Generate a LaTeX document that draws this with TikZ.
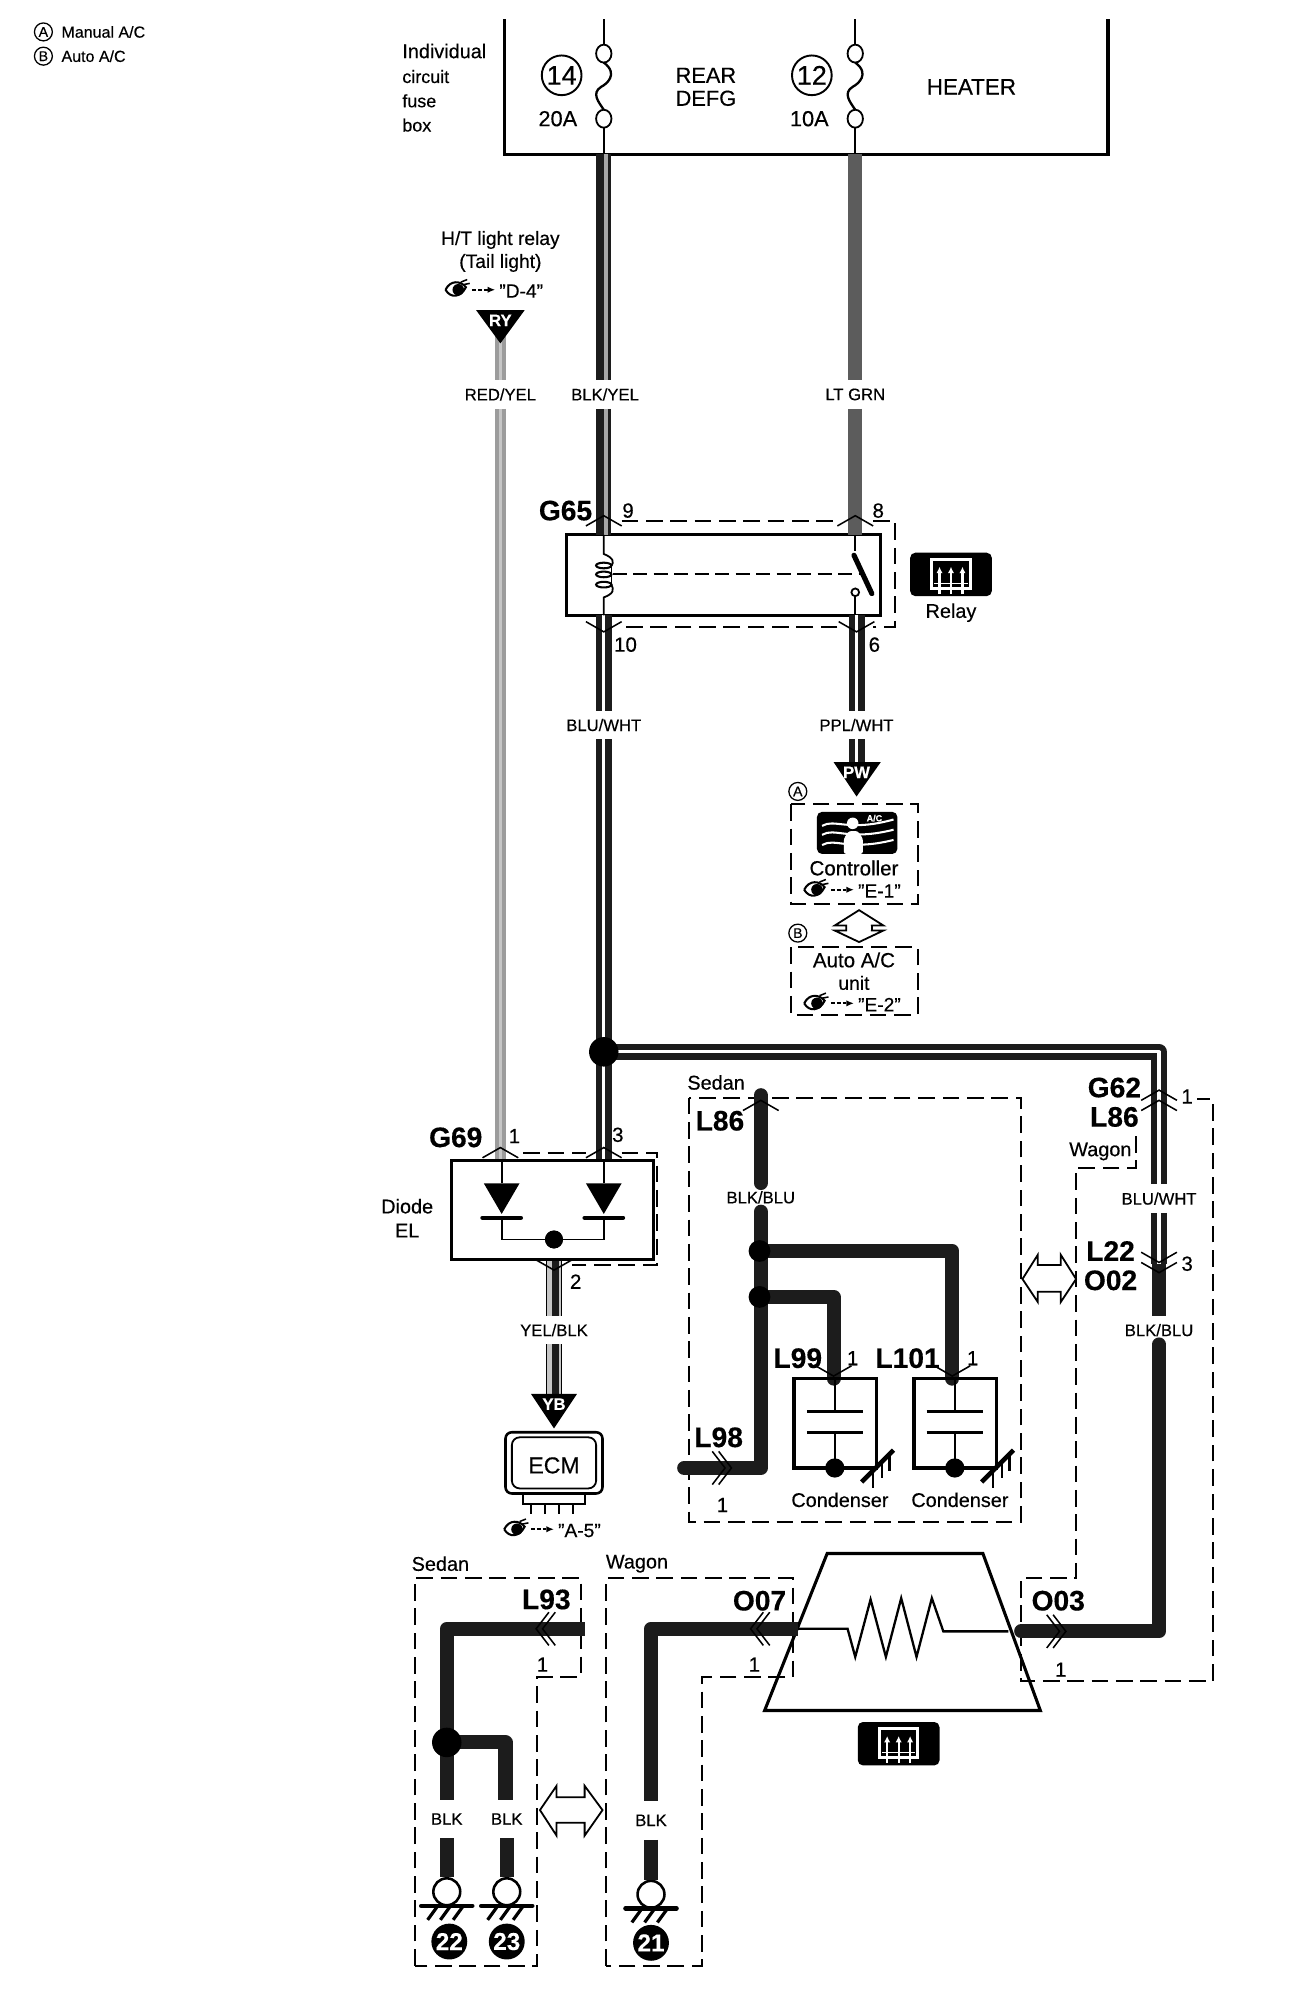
\documentclass[tikz,border=0pt]{standalone}
\usepackage{fontspec}
\setmainfont{Liberation Sans}[FakeBold=0.35]
\usetikzlibrary{arrows.meta,calc}
\definecolor{wblk}{HTML}{1C1C1C}
\definecolor{wltg}{HTML}{5C5C5C}
\definecolor{wred}{HTML}{9C9C9C}
\tikzset{
  x=0.9963pt,y=-0.9963pt,
  thin line/.style={line width=1.4pt,black},
  box line/.style={line width=2.4pt,black},
  dash line/.style={line width=1.5pt,black,dash pattern=on 13pt off 6pt},
  chev/.style={line width=1.2pt,black},
  wire black/.style={line width=11pt,wblk,line cap=round,line join=round},
  wire ltgrn/.style={line width=11pt,wltg},
  wire redyel/.style={line width=9pt,wred},
  wire rails/.style={line width=5pt,double=white,double distance=2.5pt,wblk,line join=round},
  wire stripe/.style={line width=3pt,gray!70},
  wlabel/.style={font=\fontsize{13}{13}\selectfont,minimum height=22pt,inner sep=0pt},
  blabel/.style={font=\fontsize{22}{22}\selectfont\bfseries,inner sep=0pt},
  pinlabel/.style={font=\fontsize{16}{16}\selectfont,inner sep=0pt},
  tlabel/.style={font=\fontsize{15.5}{15.5}\selectfont,inner sep=0pt},
  dot/.style={circle,fill=black,inner sep=0pt,minimum size=#1},
  ringnum/.style={circle,draw=black,line width=1.5pt,inner sep=0pt,minimum size=#1,font=\fontsize{21}{21}\selectfont},
  blacknum/.style={circle,fill=black,text=white,inner sep=0pt,minimum size=28pt,font=\fontsize{19}{19}\selectfont\bfseries},
  letter/.style={circle,draw=black,line width=1pt,inner sep=0pt,minimum size=14pt,font=\fontsize{11}{11}\selectfont},
  tri/.style={fill=black},
  tritext/.style={text=white,inner sep=0pt,font=\fontsize{13}{13}\selectfont\bfseries},
}
% chevrons
\newcommand{\chevup}[2]{\draw[chev] (#1-14,#2+4) -- (#1,#2-4) -- (#1+14,#2+4);}
\newcommand{\chevdn}[2]{\draw[chev] (#1-14,#2-4) -- (#1,#2+4) -- (#1+14,#2-4);}
\newcommand{\chevrr}[2]{\draw[chev] (#1-5,#2-13) -- (#1+5,#2) -- (#1-5,#2+13) (#1,#2-13) -- (#1+10,#2) -- (#1,#2+13);}
\newcommand{\chevll}[2]{\draw[chev] (#1+5,#2-13) -- (#1-5,#2) -- (#1+5,#2+13) (#1,#2-13) -- (#1-10,#2) -- (#1,#2+13);}
% eye reference
\newcommand{\eyemark}[3]{%
  \draw[line width=1.6pt] (#1-9,#2) .. controls (#1-5,#2-8) and (#1+3,#2-7) .. (#1+7,#2-2) .. controls (#1+3,#2+6) and (#1-5,#2+7) .. (#1-9,#2);
  \fill (#1+1,#2) circle (4.5pt);
  \draw[line width=1.2pt] (#1+3,#2-6) -- (#1+8,#2-8) (#1+5,#2-4) -- (#1+10,#2-5);
  \draw[line width=1.5pt,dash pattern=on 3pt off 1.5pt,-{Latex[length=6pt,width=5pt]}] (#1+12,#2) -- (#1+30,#2);
  \node[tlabel,font=\fontsize{15}{15}\selectfont,anchor=west] (#3) at (#1+33,#2+1) {#3};}
% defrost icon
\newcommand{\defrosticon}[2]{%
  \fill[black,rounded corners=4pt] (#1-32,#2-17) rectangle (#1+32,#2+17);
  \draw[white,line width=2.5pt] (#1-15,#2-12) rectangle (#1+15,#2+11);
  \foreach \dx in {-9,0,9}{\draw[white,line width=1.6pt,-{Latex[length=5pt,width=5pt]}] (#1+\dx,#2+15) -- (#1+\dx,#2-6);}
  \draw[white,line width=1.2pt] (#1-13,#2+7) -- (#1+13,#2+7);}
% ground
\newcommand{\gndmark}[2]{%
  \draw[line width=3.5pt,line cap=round] (#1-20,#2) -- (#1+20,#2);
  \foreach \dx in {-10,0,10}{\draw[line width=2.5pt] (#1+\dx+3,#2) -- (#1+\dx-5,#2+11);}}
% case ground of the condensers
\newcommand{\casegnd}[2]{%
  \draw[line width=3.5pt] (#1-12,#2+11) -- (#1+13,#2-14);
  \draw[line width=2pt] (#1-3,#2+3) -- (#1-3,#2+16) (#1+4,#2-4) -- (#1+4,#2+8) (#1+10,#2-10) -- (#1+10,#2+2);}
% diode
\newcommand{\diodemark}[2]{%
  \fill[black] (#1-14,#2) -- (#1+14,#2) -- (#1,#2+24) -- cycle;
  \draw[line width=3.5pt,line cap=round] (#1-15,#2+27) -- (#1+15,#2+27);}
% fuse
\newcommand{\fusemark}[1]{%
  \draw[thin line] (#1,15) -- (#1,35);
  \draw[thin line] (#1,42) ellipse (6pt and 7pt);
  \draw[line width=1.8pt] (#1,49) .. controls (#1+12,58) and (#1+2,66) .. (#1-2,68) .. controls (#1-10,73) and (#1-4,80) .. (#1,86);
  \draw[thin line] (#1,93) ellipse (6pt and 7pt);
  \draw[thin line] (#1,100) -- (#1,121);}
% capacitor
\newcommand{\capmark}[1]{%
  \draw[box line] (#1-32,1080) rectangle (#1+33,1150);
  \draw[thin line] (#1,1080) -- (#1,1106) (#1,1122) -- (#1,1150);
  \draw[line width=2.2pt] (#1-22,1106) -- (#1+22,1106) (#1-22,1122) -- (#1+22,1122);
  \node[dot=15pt] at (#1,1150) {};
  \casegnd{#1+33}{1150}}
\begin{document}
\begin{tikzpicture}
\useasboundingbox (0,0) rectangle (1027.8,1566.8);
\fill[white] (0,0) rectangle (1027.8,1566.8);

% ---------- coordinates
\coordinate (fA) at (473,121);
\coordinate (fB) at (670,121);
\coordinate (relA) at (473,419);
\coordinate (relB) at (670,432);
\coordinate (relC) at (473,482);
\coordinate (relD) at (671,482);
\coordinate (jct) at (473,824);
\coordinate (ryTop) at (392,262);
\coordinate (dL) at (392,909);
\coordinate (dR) at (473,909);
\coordinate (pwIn) at (671,600);
\coordinate (corner1) at (908,824);
\coordinate (railEnd) at (908,990);
\coordinate (o03a) at (908,1278);
\coordinate (o03b) at (800,1278);

% ---------- legend
\node[letter] (la) at (34,25) {A};
\node[tlabel,font=\fontsize{12.5}{12.5}\selectfont,anchor=west] (lat) at (48,25) {Manual A/C};
\node[letter] (lb) at (34,44) {B};
\node[tlabel,font=\fontsize{12.5}{12.5}\selectfont,anchor=west] (lbt) at (48,44) {Auto A/C};

% ---------- fuse box
\draw[box line] (395,15) -- (395,121) -- (868,121) -- (868,15);
\fusemark{473}
\fusemark{670}
\node[tlabel,anchor=west] (fb1) at (315,40) {Individual};
\node[tlabel,anchor=west,font=\fontsize{14}{14}\selectfont] (fb2) at (315,60) {circuit};
\node[tlabel,anchor=west,font=\fontsize{14}{14}\selectfont] (fb3) at (315,79) {fuse};
\node[tlabel,anchor=west,font=\fontsize{14}{14}\selectfont] (fb4) at (315,98) {box};
\node[ringnum=31pt] (n14) at (440,59) {14};
\node[ringnum=31pt] (n12) at (636,59) {12};
\node[tlabel,font=\fontsize{17}{17}\selectfont] (a20) at (437,93) {20A};
\node[tlabel,font=\fontsize{17}{17}\selectfont] (a10) at (634,93) {10A};
\node[tlabel,font=\fontsize{17}{17}\selectfont] (rd1) at (553,59) {REAR};
\node[tlabel,font=\fontsize{17}{17}\selectfont] (rd2) at (553,77) {DEFG};
\node[tlabel,font=\fontsize{17.5}{17.5}\selectfont] (heater) at (761,68) {HEATER};

% ---------- dashed enclosures
\draw[dash line] (487,408) -- (656,408) (684,408) -- (701,408) -- (701,491) -- (684,491) (656,491) -- (487,491);
\draw[dash line] (410,903) -- (459,903) (487,903) -- (515,903) -- (515,991) -- (448,991);
\draw[dash line] (620,630) rectangle (719,708);
\draw[dash line] (620,742) rectangle (719,795);
\draw[dash line] (540,860) rectangle (800,1192);
\draw[dash line] (890,890) -- (890,915) -- (843,915) -- (843,1236) -- (800,1236) -- (800,1317) -- (950,1317) -- (950,861) -- (938,861);
\draw[dash line] (325,1540) -- (325,1236) -- (455,1236) -- (455,1314) -- (421,1314) -- (421,1540) -- cycle;
\draw[dash line] (475,1540) -- (475,1236) -- (621,1236) -- (621,1314) -- (550,1314) -- (550,1540) -- cycle;

% ---------- wire labels
\node[wlabel] (wRY) at (392,309) {RED/YEL};
\node[wlabel] (wBY) at (474,309) {BLK/YEL};
\node[wlabel] (wLG) at (670,309) {LT GRN};
\node[wlabel] (wBW) at (473,568) {BLU/WHT};
\node[wlabel] (wPW) at (671,568) {PPL/WHT};
\node[wlabel] (wYB) at (434,1042) {YEL/BLK};
\node[wlabel] (wBB1) at (596,938) {BLK/BLU};
\node[wlabel] (wBW2) at (908,939) {BLU/WHT};
\node[wlabel] (wBB2) at (908,1042) {BLK/BLU};
\node[wlabel,minimum height=30pt] (wK1) at (350,1425) {BLK};
\node[wlabel,minimum height=30pt] (wK2) at (397,1425) {BLK};
\node[wlabel,minimum height=30pt] (wK3) at (510,1426) {BLK};

% ---------- relay box goes under its wires
\draw[box line,fill=white] (444,419) rectangle (690,482);

% ---------- wires
\draw[wire redyel] (ryTop) -- (wRY.north);
\draw[wire redyel] (wRY.south) -- (dL);
\draw[line width=2.5pt,gray!45] (ryTop) -- (wRY.north) (wRY.south) -- (dL);
\draw[wblk,line width=12pt] (fA) -- (wBY.north -| fA);
\draw[wblk,line width=12pt] (wBY.south -| fA) -- (relA);
\draw[wire stripe] ([xshift=2pt]fA) -- ([xshift=2pt]wBY.north -| fA) ([xshift=2pt]wBY.south -| fA) -- ([xshift=2pt]relA);
\draw[wire ltgrn] (fB) -- (wLG.north);
\draw[wire ltgrn] (wLG.south) -- (670,419);
\draw[wire rails] (relC) -- (wBW.north);
\draw[wire rails] (wBW.south) -- (jct);
\draw[wire rails] (relD) -- (wPW.north);
\draw[wire rails] (wPW.south) -- (pwIn);
\draw[wire rails] (jct) -- (dR);
\draw[wire rails] (jct) -- (corner1) -- (wBW2.north);
\draw[wire rails] (wBW2.south) -- (railEnd);
\draw[wire black,line cap=butt] (railEnd) -- (wBB2.north);
\draw[wire black] (wBB2.south) -- (o03a) -- (o03b);
\node[dot=23pt] (jctdot) at (jct) {};

% ---------- relay
\draw[thin line] (473,419) -- (473,434) .. controls (481,437) and (481,441) .. (479,443);
\draw[thin line] (479,458) .. controls (481,462) and (481,465) .. (473,468) -- (473,482);
\draw[thin line] (479,443) -- (479,458);
\foreach \cy in {443,450,458}{\draw[line width=1.6pt] (473,\cy) ellipse (6pt and 2.2pt);}
\draw[line width=1.5pt,dash pattern=on 11pt off 5pt] (480,450) -- (676,450);
\draw[thin line] (670,419) -- (670,432);
\draw[line width=4pt,line cap=round] (669,435) -- (683,465);
\draw[thin line] (670,464) circle (3pt);
\draw[thin line] (670,467) -- (670,482);
\node[blabel] (g65) at (443,400) {G65};
\node[pinlabel] (p9) at (492,400) {9};
\node[pinlabel] (p8) at (688,400) {8};
\node[pinlabel] (p10) at (490,505) {10};
\node[pinlabel] (p6) at (685,505) {6};
\defrosticon{745}{450}
\node[tlabel] (relay) at (745,480) {Relay};

% ---------- H/T light relay
\node[tlabel,font=\fontsize{15}{15}\selectfont] (ht1) at (392,188) {H/T light relay};
\node[tlabel,font=\fontsize{15}{15}\selectfont] (ht2) at (392,206) {(Tail light)};
\eyemark{358}{227}{"D-4"}
\fill[tri] (373,243) -- (411,243) -- (392,269) -- cycle;
\node[tritext] (ry) at (392,251) {RY};

% ---------- controller
\fill[tri] (653,597) -- (690,597) -- (671,624) -- cycle;
\node[tritext] (pw) at (671,605) {PW};
\node[letter] (ca) at (625,620) {A};
\fill[black,rounded corners=4pt] (640,636) rectangle (703,669);
\draw[white,line width=1.6pt] (644,647) .. controls (654,641) and (664,652) .. (700,642)
  (644,654) .. controls (654,648) and (664,659) .. (700,650)
  (644,662) .. controls (654,656) and (664,667) .. (700,658);
\fill[white] (668,645) circle (4.5pt);
\fill[white,rounded corners=2pt] (661,669) -- (661,657) -- (665,651) -- (672,651) -- (676,657) -- (676,669) -- cycle;
\node[text=white,inner sep=0pt,font=\fontsize{7}{7}\selectfont\bfseries] (acs) at (685,641) {A/C};
\node[tlabel,font=\fontsize{16}{16}\selectfont] (ctrl) at (669,680) {Controller};
\eyemark{639}{697}{"E-1"}
\draw[thin line,fill=white] (673,713) -- (692,725) -- (683,725) -- (683,729) -- (692,729) -- (673,738) -- (654,729) -- (663,729) -- (663,725) -- (654,725) -- cycle;
\fill[white] (664,725.7) rectangle (682,728.3);
\node[letter] (cb) at (625,731) {B};
\node[tlabel,font=\fontsize{16}{16}\selectfont] (auto1) at (669,752) {Auto A/C};
\node[tlabel,font=\fontsize{15}{15}\selectfont] (auto2) at (669,770) {unit};
\eyemark{639}{786}{"E-2"}

% ---------- diode EL
\draw[box line,fill=white] (354,909) rectangle (512,987);
\draw[thin line] (393,909) -- (393,927) (473,909) -- (473,927) (393,954) -- (393,971) -- (473,971) -- (473,954);
\diodemark{393}{927}
\diodemark{473}{927}
\node[dot=14pt] (dj) at (434,971) {};
\coordinate (ybTop) at (434,1092);
\draw[line width=12pt,gray!45] (dj |- 0,987) -- (wYB.north);
\draw[line width=12pt,gray!45] (wYB.south) -- (ybTop);
\draw[line width=5.5pt,wblk] ([xshift=1.5pt]dj |- 0,987) -- ([xshift=1.5pt]wYB.north) ([xshift=1.5pt]wYB.south) -- ([xshift=1.5pt]ybTop);
\draw[line width=1pt] (428,987) -- (428,1031) (428,1053) -- (428,1092) (440,987) -- (440,1031) (440,1053) -- (440,1092);
\draw[box line] (354,987) -- (512,987);
\node[dot=14pt] at (434,971) {};
\fill[tri] (416,1092) -- (452,1092) -- (434,1119) -- cycle;
\node[tritext] (yb) at (434,1100) {YB};
\node[blabel] (g69) at (357,891) {G69};
\node[pinlabel] (p1) at (403,890) {1};
\node[pinlabel] (p3) at (484,889) {3};
\node[pinlabel] (p2) at (451,1004) {2};
\node[tlabel] (de1) at (319,945) {Diode};
\node[tlabel] (de2) at (319,964) {EL};

% ---------- ECM
\draw[line width=2pt,rounded corners=5pt] (396,1122) rectangle (472,1170);
\draw[line width=1.4pt,rounded corners=6pt] (401,1126) rectangle (467,1166);
\draw[line width=1.6pt] (410,1170) -- (410,1178) -- (458,1178) -- (458,1170);
\foreach \px in {416,427,438,449}{\draw[line width=1.3pt] (\px,1178) -- (\px,1186);}
\node[tlabel,font=\fontsize{18}{18}\selectfont] (ecm) at (434,1148) {ECM};
\eyemark{404}{1198}{"A-5"}

% ---------- Sedan condensers
\node[tlabel] (s1) at (561,848) {Sedan};
\coordinate (ba) at (596,858);
\coordinate (bb) at (596,1150);
\coordinate (bc) at (536,1150);
\coordinate (j1) at (595,980);
\coordinate (j2) at (595,1016);
\coordinate (c1a) at (746,980);
\coordinate (c1b) at (746,1080);
\coordinate (c2a) at (653,1016);
\coordinate (c2b) at (653,1080);
\draw[wire black] (ba) -- (wBB1.north);
\draw[wire black] (wBB1.south) -- (bb) -- (bc);
\draw[wire black] (j1) -- (c1a) -- (c1b);
\draw[wire black] (j2) -- (c2a) -- (c2b);
\node[dot=17pt] at (j1) {};
\node[dot=17pt] at (j2) {};
\capmark{654}
\capmark{748}
\node[blabel] (l86a) at (564,878) {L86};
\node[blabel] (l98) at (563,1126) {L98};
\node[pinlabel] (p1b) at (566,1179) {1};
\node[blabel] (l99) at (625,1064) {L99};
\node[pinlabel] (p1c) at (668,1064) {1};
\node[blabel] (l101) at (711,1064) {L101};
\node[pinlabel] (p1d) at (762,1064) {1};
\node[tlabel] (cn1) at (658,1175) {Condenser};
\node[tlabel] (cn2) at (752,1175) {Condenser};

% ---------- hollow double arrows
\draw[thin line,fill=white] (801,1002) -- (813,983) -- (813,991) -- (831,991) -- (831,983) -- (843,1002) -- (831,1020) -- (831,1012) -- (813,1012) -- (813,1020) -- cycle;
\draw[thin line,fill=white] (423,1418) -- (436,1399) -- (436,1408) -- (458,1408) -- (458,1399) -- (472,1418) -- (458,1438) -- (458,1428) -- (436,1428) -- (436,1438) -- cycle;

% ---------- right hand connectors
\node[blabel] (g62) at (873,852) {G62};
\node[blabel] (l86b) at (873,875) {L86};
\node[pinlabel] (p1e) at (930,859) {1};
\node[tlabel] (wag1) at (862,902) {Wagon};
\node[blabel] (l22) at (870,980) {L22};
\node[blabel] (o02) at (870,1003) {O02};
\node[pinlabel] (p3b) at (930,990) {3};

% ---------- heater element
\draw[box line] (648,1217) -- (770,1217) -- (815,1340) -- (599,1340) -- cycle;
\coordinate (eIn) at (625,1276);
\coordinate (eOut) at (790,1278);
\draw[line width=1.8pt,line join=miter] (eIn) -- (664,1276) -- (670,1298) -- (682,1253) -- (694,1298) -- (706,1252) -- (718,1298) -- (730,1252) -- (739,1278) -- (eOut);
\defrosticon{704}{1366}

% ---------- bottom wires
\coordinate (gA) at (458,1276);
\coordinate (gB) at (350,1276);
\coordinate (gC) at (350,1365);
\coordinate (gD) at (396,1365);
\coordinate (gE) at (625,1276);
\coordinate (gF) at (510,1276);
\node[draw=black,line width=2pt,fill=white,circle,inner sep=0pt,minimum size=21pt] (g22) at (350,1482) {};
\node[draw=black,line width=2pt,fill=white,circle,inner sep=0pt,minimum size=21pt] (g23) at (397,1482) {};
\node[draw=black,line width=2pt,fill=white,circle,inner sep=0pt,minimum size=21pt] (g21) at (510,1484) {};
\draw[wire black,line cap=butt] (gA) -- (gB) -- (gB |- wK1.north);
\draw[wire black,line cap=butt] (wK1.south) -- (g22.north);
\draw[wire black,line cap=butt] (gC) -- (gD) -- (gD |- wK2.north);
\draw[wire black,line cap=butt] (wK2.south) -- (g23.north);
\draw[wire black,line cap=butt] (gE) -- (gF) -- (gF |- wK3.north);
\draw[wire black,line cap=butt] (wK3.south) -- (g21.north);
\node[dot=23pt] at (gC) {};
\gndmark{350}{1493}
\gndmark{397}{1493}
\gndmark{510}{1495}
\node[blacknum] (b22) at (352,1521) {22};
\node[blacknum] (b23) at (397,1521) {23};
\node[blacknum] (b21) at (510,1522) {21};
\node[tlabel] (s2) at (345,1225) {Sedan};
\node[tlabel] (w2) at (499,1225) {Wagon};
\node[blabel] (l93) at (428,1253) {L93};
\node[pinlabel] (p1f) at (425,1304) {1};
\node[blabel] (o07) at (595,1254) {O07};
\node[pinlabel] (p1g) at (591,1304) {1};
\node[blabel] (o03) at (829,1254) {O03};
\node[pinlabel] (p1h) at (831,1308) {1};

% ---------- connector chevrons
\chevup{473}{408}
\chevup{670}{408}
\chevdn{473}{491}
\chevdn{671}{491}
\chevup{392}{903}
\chevup{473}{903}
\chevdn{434}{991}
\chevup{596}{866}
\chevup{908}{858}
\chevup{908}{866}
\chevdn{908}{985}
\chevdn{908}{993}
\chevdn{653}{1074}
\chevdn{746}{1074}
\chevrr{563}{1150}
\chevll{430}{1276}
\chevll{598}{1276}
\chevrr{825}{1278}
\end{tikzpicture}
\end{document}
